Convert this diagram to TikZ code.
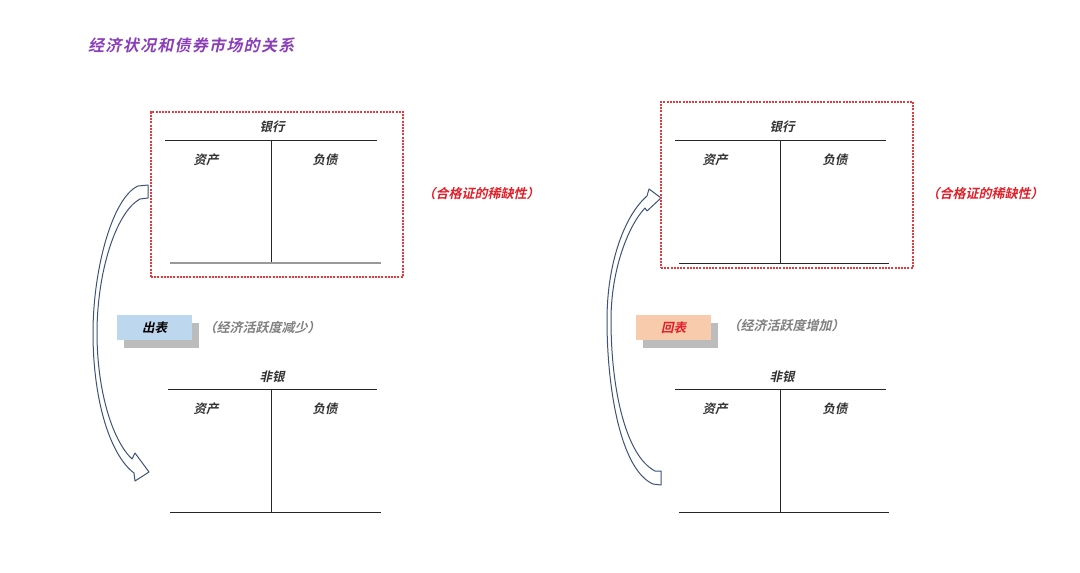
\documentclass[tikz,border=0pt]{standalone}
\usepackage{fontspec}
\newfontfamily\cjk[FakeSlant=0.22,BoldFont={Noto Sans CJK SC Bold}]{Noto Sans CJK SC}
\newfontfamily\cjkttl[FakeSlant=0.22,LetterSpace=8,BoldFont={Noto Sans CJK SC Bold}]{Noto Sans CJK SC}
\usetikzlibrary{shadows}
\definecolor{ttlpurple}{HTML}{8A3FB8}
\definecolor{lblred}{HTML}{E0202A}
\definecolor{boxred}{HTML}{E8383F}
\definecolor{arrblue}{HTML}{3E5377}
\definecolor{lblblue}{HTML}{BDD7EE}
\definecolor{lblorange}{HTML}{F8CBAD}
\definecolor{txtgray}{HTML}{7F7F7F}
\tikzset{
  txt/.style={font=\cjk\bfseries\fontsize{12.5}{14}\selectfont, inner sep=0pt},
  hdr/.style={txt, text=black!80},
  tline/.style={draw=black!85, line width=0.8pt},
  bline/.style={draw=black!40, line width=1.6pt},
  redbox/.style={draw=boxred, line width=1.3pt, dash pattern=on 2pt off 1.2pt},
  lblbox/.style={txt, minimum width=75pt, minimum height=25pt, inner sep=0pt,
     drop shadow={shadow xshift=7pt, shadow yshift=-8pt, fill=black!35, opacity=0.75}},
  note/.style={txt, text=txtgray, font=\cjk\bfseries\fontsize{13}{15}\selectfont},
  rednote/.style={txt, text=lblred, font=\cjk\bfseries\fontsize{13}{15}\selectfont},
  bigarrow/.style={draw=arrblue, fill=white, line width=1pt, line join=round}
}
\begin{document}
\begin{tikzpicture}[x=1pt,y=-1pt]
\useasboundingbox (0,0) rectangle (1080,573);

% title
\node[txt, font=\cjkttl\bfseries\fontsize{16}{18}\selectfont, text=ttlpurple, anchor=west] (title) at (88,45) {经济状况和债券市场的关系};

% ---------- left side ----------
\draw[bigarrow] (148,185) -- (138,186) .. controls (112,198) and (93,270) .. (93,333)
  .. controls (93,400) and (110,455) .. (134,473) -- (135,481) -- (149,472) -- (135,453) -- (132,459)
  .. controls (112,440) and (97,390) .. (97,333)
  .. controls (97,272) and (116,212) .. (140,199) -- (148,198) -- cycle;

\node[redbox, minimum width=252pt, minimum height=165pt, inner sep=0pt] (lbankbox) at (277,194.5) {};
\node[hdr] (lbank) at (272,127) {银行};
\coordinate (lbtl) at (165,140); \coordinate (lbtr) at (377,140);
\coordinate (lbvt) at (271,140); \coordinate (lbvb) at (271,263);
\coordinate (lbbl) at (170,263); \coordinate (lbbr) at (381,263);
\draw[tline] (lbtl) -- (lbtr);
\draw[tline] (lbvt) -- (lbvb);
\draw[bline] (lbbl) -- (lbbr);
\node[hdr] (lbasset) at (206,160) {资产};
\node[hdr] (lbliab) at (325,160) {负债};
\node[rednote] (lscarce) at (481,194) {（合格证的稀缺性）};

\node[lblbox, fill=lblblue] (out) at (154.5,327.5) {出表};
\node[note] (lnote) at (262,328) {（经济活跃度减少）};

\node[hdr] (lnb) at (272,377) {非银};
\coordinate (lntl) at (168,389); \coordinate (lntr) at (377,389);
\coordinate (lnvt) at (271,389); \coordinate (lnvb) at (271,512);
\coordinate (lnbl) at (170,512); \coordinate (lnbr) at (381,512);
\draw[tline] (lntl) -- (lntr);
\draw[tline] (lnvt) -- (lnvb);
\draw[tline, line width=0.7pt] (lnbl) -- (lnbr);
\node[hdr] (lnasset) at (206,409) {资产};
\node[hdr] (lnliab) at (325,409) {负债};

% ---------- right side ----------
\draw[bigarrow] (661,485) -- (653,484) .. controls (621,470) and (607,390) .. (607,320)
  .. controls (607,262) and (625,215) .. (647,196) -- (649,189) -- (661,198) -- (647,211) -- (645,208)
  .. controls (628,226) and (611,270) .. (611,320)
  .. controls (611,390) and (626,456) .. (655,471) -- (661,471) -- cycle;

\node[redbox, minimum width=252pt, minimum height=166pt, inner sep=0pt] (rbankbox) at (787,185) {};
\node[hdr] (rbank) at (782,127) {银行};
\coordinate (rbtl) at (675,140); \coordinate (rbtr) at (886,140);
\coordinate (rbvt) at (780,140); \coordinate (rbvb) at (780,263);
\coordinate (rbbl) at (679,263); \coordinate (rbbr) at (889,263);
\draw[tline] (rbtl) -- (rbtr);
\draw[tline] (rbvt) -- (rbvb);
\draw[tline, line width=0.7pt] (rbbl) -- (rbbr);
\node[hdr] (rbasset) at (715,160) {资产};
\node[hdr] (rbliab) at (835,160) {负债};
\node[rednote] (rscarce) at (985,194) {（合格证的稀缺性）};

\node[lblbox, fill=lblorange, text=lblred] (back) at (673.5,327.5) {回表};
\node[note] (rnote) at (786,326) {（经济活跃度增加）};

\node[hdr] (rnb) at (782,377) {非银};
\coordinate (rntl) at (675,389); \coordinate (rntr) at (886,389);
\coordinate (rnvt) at (780,389); \coordinate (rnvb) at (780,512);
\coordinate (rnbl) at (679,512); \coordinate (rnbr) at (889,512);
\draw[tline] (rntl) -- (rntr);
\draw[tline] (rnvt) -- (rnvb);
\draw[tline, line width=0.7pt] (rnbl) -- (rnbr);
\node[hdr] (rnasset) at (715,409) {资产};
\node[hdr] (rnliab) at (835,409) {负债};
\end{tikzpicture}
\end{document}
